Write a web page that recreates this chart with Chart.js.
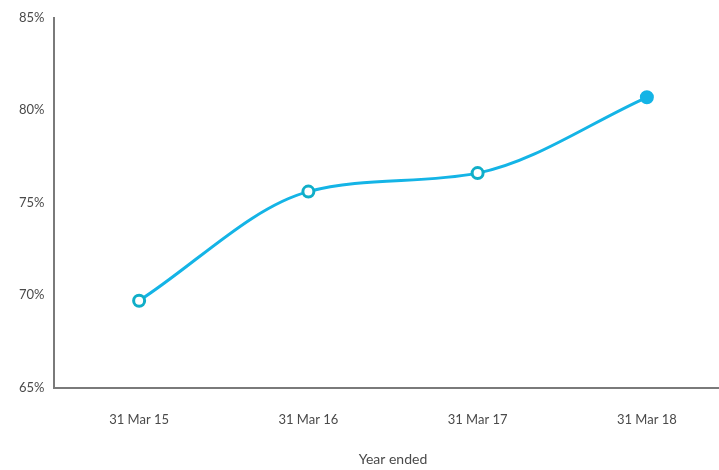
<!DOCTYPE html>
<html>
<head>
<meta charset="utf-8">
<script src="https://cdn.jsdelivr.net/npm/chart.js@4.4.0/dist/chart.umd.min.js"></script>
<style>
  html, body { margin:0; padding:0; background:#fff; overflow:hidden; }
  #wrap { width:719px; height:470px; overflow:hidden; }
  /* the source image crops the plot on the right, so the canvas runs a bit past the window */
  #box { width:740px; height:470px; position:relative; }
</style>
</head>
<body>
<div id="wrap"><div id="box"><canvas id="c"></canvas></div></div>
<script>
// categories (year ended)
const years = ["31 Mar 15", "31 Mar 16", "31 Mar 17", "31 Mar 18"];
// ratio, in %
const ratio = [69.7, 75.6, 76.6, 80.7];
// y axis
const yMin = 65, yMax = 85, yStep = 5;

const LINE = "#14b4e6";
const RING = "#10aec8";
const INK = "#4a4a4a";
const FONT = "Lato, 'Open Sans', sans-serif";

// last point filled, others hollow
const pointFill = ratio.map((v,i)=> i===ratio.length-1 ? LINE : "#ffffff");
const pointRing = ratio.map((v,i)=> i===ratio.length-1 ? LINE : RING);

new Chart(document.getElementById("c"), {
  type: "line",
  data: {
    labels: years,
    datasets: [{
      data: ratio,
      borderColor: LINE,
      borderWidth: 3,
      cubicInterpolationMode: "monotone",
      fill: false,
      pointRadius: 5.5,
      pointBorderWidth: 3,
      pointBackgroundColor: pointFill,
      pointBorderColor: pointRing,
    }],
  },
  options: {
    responsive: true,
    maintainAspectRatio: false,
    animation: false,
    layout: { padding: { top: 8, left: 9, right: 0, bottom: 0 } },
    plugins: { legend: { display: false }, tooltip: { enabled: false } },
    scales: {
      x: {
        offset: true,
        grid: { display: false, drawTicks: false },
        border: { display: true, color: "#7a7a7a", width: 2 },
        ticks: { color: INK, font: { family: FONT, size: 13 }, padding: 24, maxRotation: 0 },
        title: { display: true, text: "Year ended", color: INK, font: { family: FONT, size: 14 }, padding: { top: 0, bottom: 2 } },
      },
      y: {
        min: yMin, max: yMax,
        grid: { display: false, drawTicks: false },
        border: { display: true, color: "#7a7a7a", width: 2 },
        ticks: { stepSize: yStep, color: INK, font: { family: FONT, size: 13 }, padding: 10,
          callback: v => v + "%" },
      },
    },
  },
});
</script>
</body>
</html>
